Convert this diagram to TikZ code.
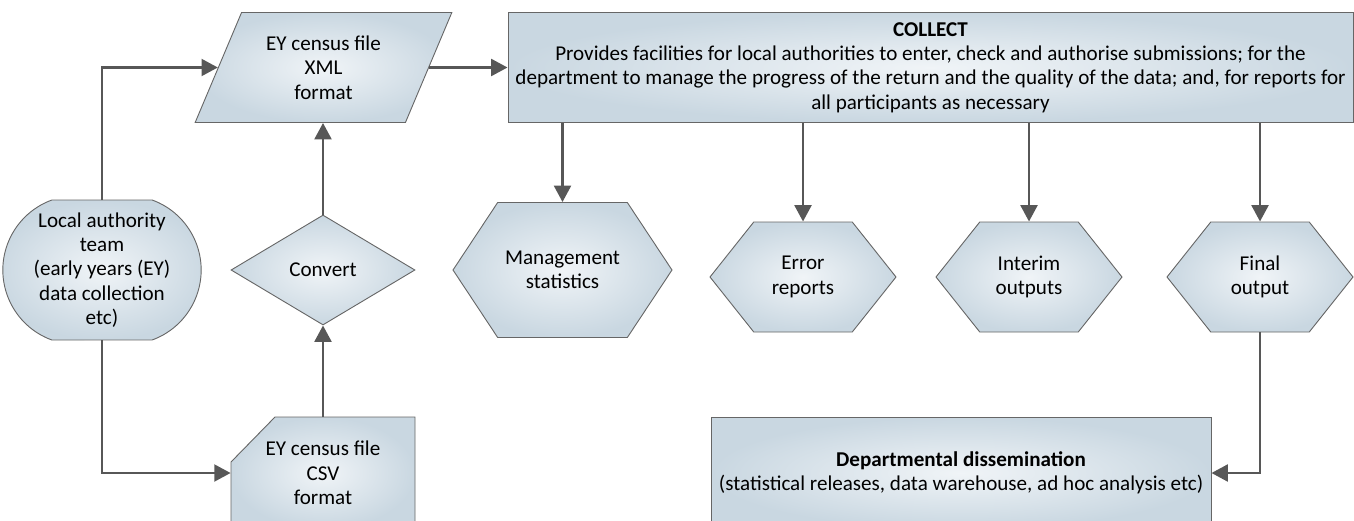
\documentclass[tikz,border=0pt]{standalone}
\usepackage{fontspec}
\setmainfont{Carlito}
\usetikzlibrary{shapes.geometric,shapes.misc,shapes.symbols,arrows.meta}
\definecolor{boxedge}{HTML}{666666}
\definecolor{boxin}{HTML}{F0F4F7}
\definecolor{boxout}{HTML}{C9D7E1}
\definecolor{flow}{HTML}{575757}
\begin{document}
\begin{tikzpicture}[x=0.55pt,y=-0.55pt,
  label/.style={align=center,inner sep=2pt,font=\fontsize{11.6}{13.4}\selectfont},
  box/.style={label,draw=boxedge,line width=0.5pt,inner color=boxin,outer color=boxout},
  hexbox/.style={box,signal,signal to=west and east,signal pointer angle=103,
    minimum height=60.5pt,minimum width=102.3pt},
  flowline/.style={draw=flow,line width=1.6pt,-{Triangle[length=9pt,width=9.2pt]}}]
\useasboundingbox (0,0) rectangle (1354,521);
% inputs
\node[box,rounded rectangle,rounded rectangle arc length=140,minimum width=102.3pt,minimum height=77pt]
  (team) at (102,270) {Local authority\\team\\(early years (EY)\\data collection\\etc)};
\node[box,trapezium,trapezium left angle=64,trapezium right angle=116,trapezium stretches,
  minimum width=141.35pt,minimum height=60.5pt] (xml) at (323.5,67.5) {EY census file\\XML\\format};
\node[box,diamond,minimum width=101.2pt,minimum height=60.5pt] (conv) at (323,270) {Convert};
% card with the corner cut off
\path[box] (275,417) -- (415,417) -- (415,529) -- (231,529) -- (231,462) -- cycle;
\node[label,minimum width=101.2pt,minimum height=61.6pt] (csv) at (323,473)
  {EY census file\\CSV\\format};
% collect and outputs
\node[box,minimum width=464.75pt,minimum height=60.5pt] (collect) at (930.5,67.5)
  {\textbf{COLLECT}\\Provides facilities for local authorities to enter, check and authorise submissions; for the\\
   department to manage the progress of the return and the quality of the data; and, for reports for\\
   all participants as necessary};
\node[hexbox,signal pointer angle=113,minimum width=120.45pt,minimum height=74.25pt] (mgmt) at (562.5,270) {Management\\statistics};
\node[hexbox] (err) at (803,277) {Error\\reports};
\node[hexbox] (interim) at (1029,277) {Interim\\outputs};
\node[hexbox] (final) at (1260,277) {Final\\output};
\node[box,minimum width=275pt,minimum height=61.6pt] (diss) at (961,473)
  {\textbf{Departmental dissemination}\\(statistical releases, data warehouse, ad hoc analysis etc)};
% connectors
\draw[flowline] (team.north) |- (xml);
\draw[flowline] (team.south) |- (csv);
\draw[flowline] (csv.north) -- (conv.south);
\draw[flowline] (conv.north) -- (conv.north |- xml.south);
\draw[flowline] (xml) -- (collect);
\foreach \out in {mgmt,err,interim,final}
  \draw[flowline] (collect.south -| \out.north) -- (\out.north);
\draw[flowline] (final.south) |- (diss.east);
\end{tikzpicture}
\end{document}
